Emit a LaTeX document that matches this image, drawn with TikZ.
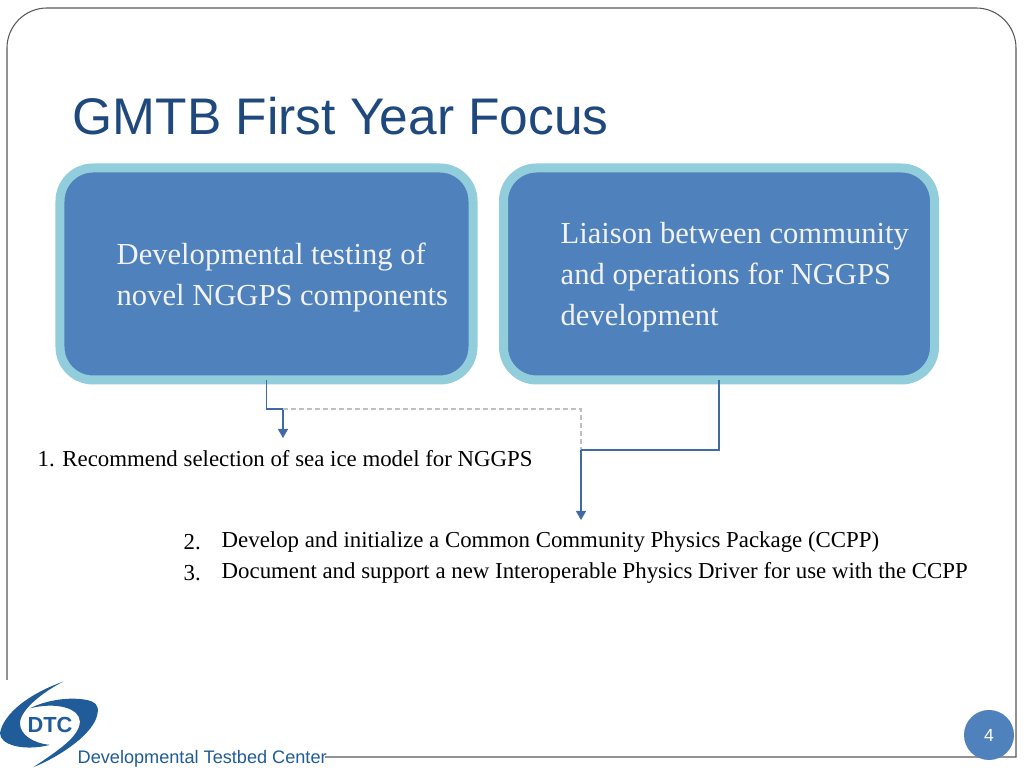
\documentclass[tikz,border=0pt]{standalone}
\usepackage{fontspec}
\setmainfont{Liberation Serif}
\setsansfont{Liberation Sans}
\usetikzlibrary{arrows.meta}
\definecolor{titleblue}{HTML}{1F497D}
\definecolor{boxblue}{HTML}{4F81BD}
\definecolor{boxrim}{HTML}{92CDDC}
\definecolor{linkblue}{HTML}{3F6AA5}
\definecolor{logoblue}{HTML}{1F5C99}
\tikzset{
  bluebox/.style={fill=boxblue,draw=boxrim,line width=0.09cm,rounded corners=0.33cm,outer sep=0pt},
  boxtext/.style={anchor=west,align=left,inner sep=0pt,text=black!5,font=\fontsize{8.7}{11.7}\selectfont},
  bodytext/.style={anchor=west,inner sep=0pt,font=\fontsize{6.5}{8.6}\selectfont},
  link/.style={linkblue,line width=0.4pt},
  linktip/.style={linkblue,line width=0.4pt,-{Triangle[length=0.09cm,width=0.1cm]}},
}
\begin{document}
\begin{tikzpicture}

\useasboundingbox (0,0) rectangle (10.24,7.68);
\fill[white] (0,0) rectangle (10.24,7.68);

% frame
\draw[gray!70!black,line width=0.3pt] (0.07,0.88) -- (0.07,7.2) arc (180:90:0.4) -- (9.76,7.6) arc (90:0:0.4) -- (10.16,0.11) -- (3.25,0.11);

\node[anchor=west,inner sep=0pt,text=titleblue,font=\sffamily\fontsize{14.65}{16}\selectfont] (title) at (0.72,6.52) {GMTB First Year Focus};

\node[bluebox,minimum width=4.13cm,minimum height=2.12cm] (devbox) at (2.665,4.94) {};
\node[bluebox,minimum width=4.31cm,minimum height=2.12cm] (liaisonbox) at (7.19,4.94) {};

\node[boxtext] (devtext) at (1.16,4.905) {Developmental testing of\\novel NGGPS components};
\node[boxtext] (liaisontext) at (5.6,4.91) {Liaison between community\\and operations for NGGPS\\development};

\node[bodytext] (seaice) at (0.37,3.09) {1. Recommend selection of sea ice model for NGGPS};
\node[bodytext] (num2) at (1.83,2.26) {2.};
\node[bodytext] (ccpp) at (2.21,2.26) {Develop and initialize a Common Community Physics Package (CCPP)};
\node[bodytext] (num3) at (1.83,1.95) {3.};
\node[bodytext] (driver) at (2.21,1.95) {Document and support a new Interoperable Physics Driver for use with the CCPP};

\coordinate (devsplit) at (2.83,3.59);
\coordinate (devend) at (2.83,3.3);
\coordinate (liaisonsplit) at (5.81,3.18);
\coordinate (liaisonend) at (5.81,2.48);
\coordinate (dashcorner) at (5.81,3.59);

\draw[link] (devbox.south) |- (devsplit);
\draw[linktip] (devsplit) -- (devend);
\draw[gray!50,line width=0.3pt,dash pattern=on 0.05cm off 0.03cm] (devsplit) -- (dashcorner) -- (liaisonsplit);
\draw[link] (liaisonbox.south) |- (liaisonsplit);
\draw[linktip] (liaisonsplit) -- (liaisonend);

% logo
\begin{scope}[shift={(0,0.98)},x=0.0333mm,y=-0.0333mm]
\fill[logoblue] (190,35) .. controls (90,70) and (10,130) .. (0,190) .. controls (0,225) and (70,245) .. (150,225) .. controls (100,220) and (60,195) .. (60,160) .. controls (60,120) and (130,65) .. (190,35) -- cycle;
\fill[logoblue] (90,115) .. controls (140,90) and (210,80) .. (260,90) .. controls (285,95) and (298,105) .. (293,130) .. controls (285,190) and (180,260) .. (100,292) .. controls (170,245) and (240,200) .. (240,155) .. controls (240,115) and (170,95) .. (90,115) -- cycle;
\end{scope}
\node[text=logoblue,inner sep=0pt,font=\sffamily\bfseries\fontsize{6.2}{7}\selectfont] (dtc) at (0.5,0.43) {DTC};
\node[anchor=west,text=logoblue,font=\sffamily\fontsize{5.16}{6}\selectfont,inner sep=0pt] (dtclabel) at (0.77,0.095) {Developmental Testbed Center};

\node[circle,fill=boxblue,minimum size=0.5cm,inner sep=0pt,text=white,font=\sffamily\fontsize{5}{6}\selectfont] (pagenum) at (9.89,0.33) {4};

\end{tikzpicture}
\end{document}
